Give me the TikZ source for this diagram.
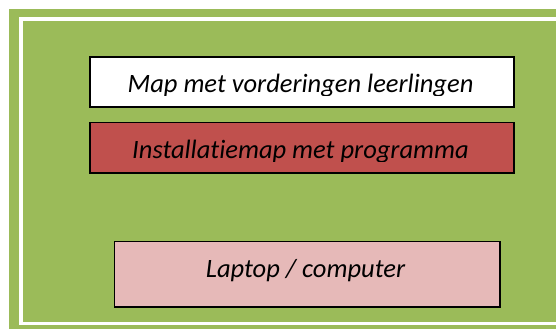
\documentclass[tikz,border=0pt]{standalone}
\usepackage{fontspec}
\setmainfont{Carlito}[Ligatures={NoCommon}]
\definecolor{olive}{HTML}{9BBB59}
\definecolor{boxred}{HTML}{C0504D}
\definecolor{boxpink}{HTML}{E6B9B8}
\tikzset{
  panel/.style={draw=black, line width=1.5pt},
  lbl/.style={font=\fontsize{26.5}{30}\selectfont\itshape, text=black, inner sep=0pt, anchor=base}
}
\begin{document}
\begin{tikzpicture}[x=1pt,y=-1pt]
\useasboundingbox (0,0) rectangle (556,329);
\fill[white] (0,0) rectangle (556,329);
\fill[olive] (9,9) rectangle (556,329);
\fill[white] (19,17.5) rectangle (556,325);
\fill[olive] (22.5,21.5) rectangle (556,321.5);
% boxes
\node[panel, fill=white, minimum width=424pt, minimum height=50pt, anchor=north west] (b1) at (89,56) {};
\node[panel, fill=boxred, minimum width=424pt, minimum height=50.5pt, anchor=north west] (b2) at (89,121.8) {};
\node[panel, fill=boxpink, minimum width=385.5pt, minimum height=65.5pt, anchor=north west] (b3) at (113.5,240.7) {};
\begin{scope}
\clip (89,56) rectangle (513,95.5);
\node[lbl] (t1) at (300.5,92) {Map met vorderingen leerlingen};
\end{scope}
\begin{scope}
\clip (89,122) rectangle (513,161);
\node[lbl] (t2) at (300.5,158) {Installatiemap met programma};
\end{scope}
\node[lbl] (t3) at (305.5,277.7) {Laptop / computer};
\end{tikzpicture}
\end{document}
